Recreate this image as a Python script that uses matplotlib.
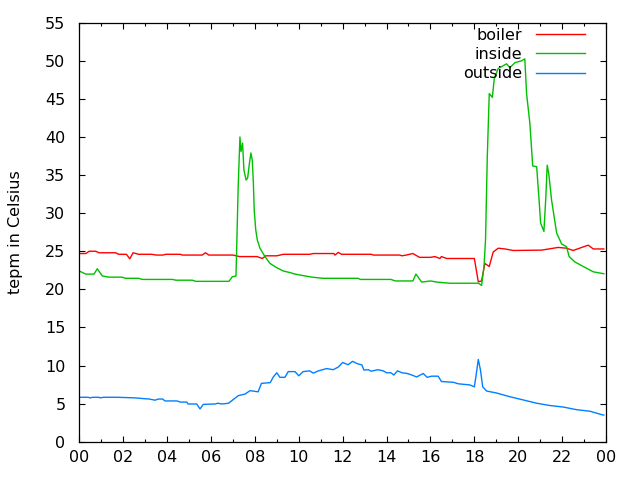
import numpy as np
import matplotlib
matplotlib.use('Agg')
import matplotlib.pyplot as plt
from matplotlib.ticker import MultipleLocator

# boiler (red)
boiler_h = [0.0, 0.3, 0.45, 0.75, 0.9, 1.65, 1.8, 2.15, 2.3, 2.45, 2.7, 3.3, 3.5, 3.8, 3.95,
            4.6, 4.7, 5.2, 5.6, 5.75, 5.9, 7.0, 7.3, 8.1, 8.34, 8.5, 9.0, 9.3, 10.5, 10.66,
            11.6, 11.65, 11.8, 11.95, 13.3, 13.4, 14.6, 14.7, 14.9, 15.2, 15.5, 16.0, 16.2,
            16.43, 16.5, 16.74, 17.0, 18.0, 18.18, 18.33, 18.48, 18.68, 18.86, 19.09, 19.4,
            19.77, 21.07, 21.82, 22.2, 22.5, 23.19, 23.42, 23.9]
boiler_t = [24.7, 24.7, 25.0, 25.0, 24.8, 24.8, 24.6, 24.6, 24.0, 24.8, 24.6, 24.6, 24.5, 24.5, 24.6,
            24.6, 24.5, 24.5, 24.5, 24.8, 24.5, 24.5, 24.3, 24.3, 24.05, 24.4, 24.4, 24.6, 24.6, 24.7,
            24.7, 24.5, 24.85, 24.6, 24.6, 24.5, 24.5, 24.4, 24.5, 24.7, 24.2, 24.2, 24.3,
            24.05, 24.3, 24.05, 24.05, 24.05, 21.0, 21.1, 23.4, 23.0, 24.9, 25.4, 25.3,
            25.1, 25.15, 25.5, 25.4, 25.1, 25.8, 25.3, 25.3]

# inside (green)
inside_h = [0.0, 0.3, 0.67, 0.82, 1.05, 1.35, 1.95, 2.1, 2.7, 2.87, 4.24, 4.4, 5.15, 5.3, 6.82,
            6.97, 7.14, 7.24, 7.32, 7.37, 7.44, 7.5, 7.6, 7.67, 7.75, 7.82, 7.88, 7.93, 7.97,
            8.04, 8.11, 8.23, 8.46, 8.69, 8.99, 9.3, 9.6, 9.83, 10.2, 10.6, 11.1, 12.7, 12.8,
            14.2, 14.4, 15.2, 15.34, 15.6, 16.0, 16.3, 16.9, 18.2, 18.33, 18.44, 18.51, 18.59,
            18.68, 18.82, 18.91, 19.09, 19.47, 19.62, 19.85, 20.15, 20.3, 20.38, 20.53, 20.66,
            20.84, 20.96, 21.02, 21.17, 21.26, 21.32, 21.39, 21.52, 21.75, 21.98, 22.2, 22.32,
            22.58, 22.96, 23.42, 23.8, 23.9]
inside_t = [22.4, 22.0, 22.0, 22.7, 21.75, 21.6, 21.6, 21.45, 21.45, 21.3, 21.3, 21.2, 21.2, 21.05, 21.05,
            21.65, 21.75, 33.5, 40.0, 38.1, 39.2, 35.7, 34.35, 34.6, 36.5, 37.9, 37.0, 34.1, 30.4,
            27.8, 26.5, 25.4, 24.3, 23.4, 22.85, 22.4, 22.2, 22.0, 21.8, 21.6, 21.45, 21.45, 21.3,
            21.3, 21.1, 21.1, 22.0, 20.95, 21.1, 20.95, 20.8, 20.8, 20.5, 23.0, 26.5, 37.4,
            45.7, 45.2, 47.7, 49.0, 49.6, 49.1, 49.75, 50.0, 50.25, 45.7, 41.8, 36.2,
            36.1, 31.3, 28.7, 27.6, 32.2, 36.3, 35.2, 31.7, 27.4, 25.95, 25.6, 24.3,
            23.6, 23.0, 22.3, 22.1, 22.05]

# outside (blue)
outside_h = [0.0, 0.4, 0.5, 0.6, 0.9, 0.95, 1.1, 1.75, 2.55, 3.07, 3.15, 3.45, 3.6, 3.8, 3.9,
             4.45, 4.6, 4.9, 4.95, 5.35, 5.5, 5.65, 6.2, 6.3, 6.5, 6.8, 7.0, 7.25, 7.55, 7.78,
             8.15, 8.3, 8.7, 8.84, 9.0, 9.14, 9.37, 9.52, 9.83, 10.0, 10.2, 10.5, 10.66, 10.9,
             11.27, 11.57, 11.8, 12.0, 12.25, 12.45, 12.7, 12.87, 12.97, 13.17, 13.3, 13.6,
             13.85, 14.0, 14.2, 14.33, 14.5, 14.7, 14.95, 15.15, 15.37, 15.67, 15.85, 16.05,
             16.35, 16.5, 17.04, 17.27, 17.8, 18.0, 18.07, 18.18, 18.28, 18.38, 18.56, 19.0,
             19.62, 20.2, 20.84, 21.44, 22.05, 22.66, 23.27, 23.8, 23.9]
outside_t = [5.83, 5.83, 5.75, 5.83, 5.83, 5.75, 5.83, 5.83, 5.75, 5.62, 5.62, 5.45, 5.6, 5.6, 5.35,
             5.35, 5.2, 5.2, 4.95, 4.95, 4.3, 4.9, 4.95, 5.05, 4.95, 5.05, 5.5, 6.05, 6.25, 6.7,
             6.55, 7.66, 7.75, 8.5, 9.05, 8.45, 8.45, 9.2, 9.2, 8.65, 9.2, 9.3, 9.0, 9.3,
             9.6, 9.45, 9.8, 10.4, 10.1, 10.55, 10.2, 10.1, 9.4, 9.45, 9.25, 9.45,
             9.3, 9.05, 9.05, 8.75, 9.3, 9.05, 8.95, 8.75, 8.5, 8.95, 8.45, 8.6,
             8.6, 7.9, 7.8, 7.6, 7.45, 7.2, 8.5, 10.8, 9.4, 7.2, 6.65, 6.4,
             5.9, 5.5, 5.05, 4.75, 4.55, 4.2, 4.0, 3.55, 3.5]

hour_ticks = list(range(0, 25, 2))
hour_labels = ['%02d' % (h % 24) for h in hour_ticks]

plt.rcParams['font.family'] = 'DejaVu Sans'
fs = 11.5

fig = plt.figure(figsize=(6.4, 4.8), dpi=100)
ax = fig.add_axes([0.1239, 0.0798, 0.823, 0.8729])

ax.plot(boiler_h, boiler_t, color='#ff0000', lw=1.0, label='boiler')
ax.plot(inside_h, inside_t, color='#00c000', lw=1.0, label='inside')
ax.plot(outside_h, outside_t, color='#0080ff', lw=1.0, label='outside')

ax.set_xlim(0, 24)
ax.set_ylim(0, 55)
ax.set_xticks(hour_ticks)
ax.set_xticklabels(hour_labels)
ax.xaxis.set_minor_locator(MultipleLocator(1))
ax.yaxis.set_major_locator(MultipleLocator(5))
ax.tick_params(which='both', direction='in', top=True, right=True, width=0.8, labelsize=fs)
ax.tick_params(which='major', length=4.5)
ax.tick_params(which='minor', length=2.3)
ax.tick_params(axis='x', pad=6)
ax.tick_params(axis='y', pad=10)
for s in ax.spines.values():
    s.set_linewidth(0.9)

ax.set_ylabel('tepm in Celsius', fontsize=fs)
ax.yaxis.set_label_coords(-0.107, 0.5)

# legend: labels on the left, sample lines on the right, no frame
ax.legend(loc='upper right', bbox_to_anchor=(0.9596, 0.988), frameon=False,
          markerfirst=False, fontsize=fs, handlelength=3.06, handletextpad=0.875,
          borderpad=0, borderaxespad=0, labelspacing=0.27)

plt.savefig('out.png', dpi=100)
plt.close()
